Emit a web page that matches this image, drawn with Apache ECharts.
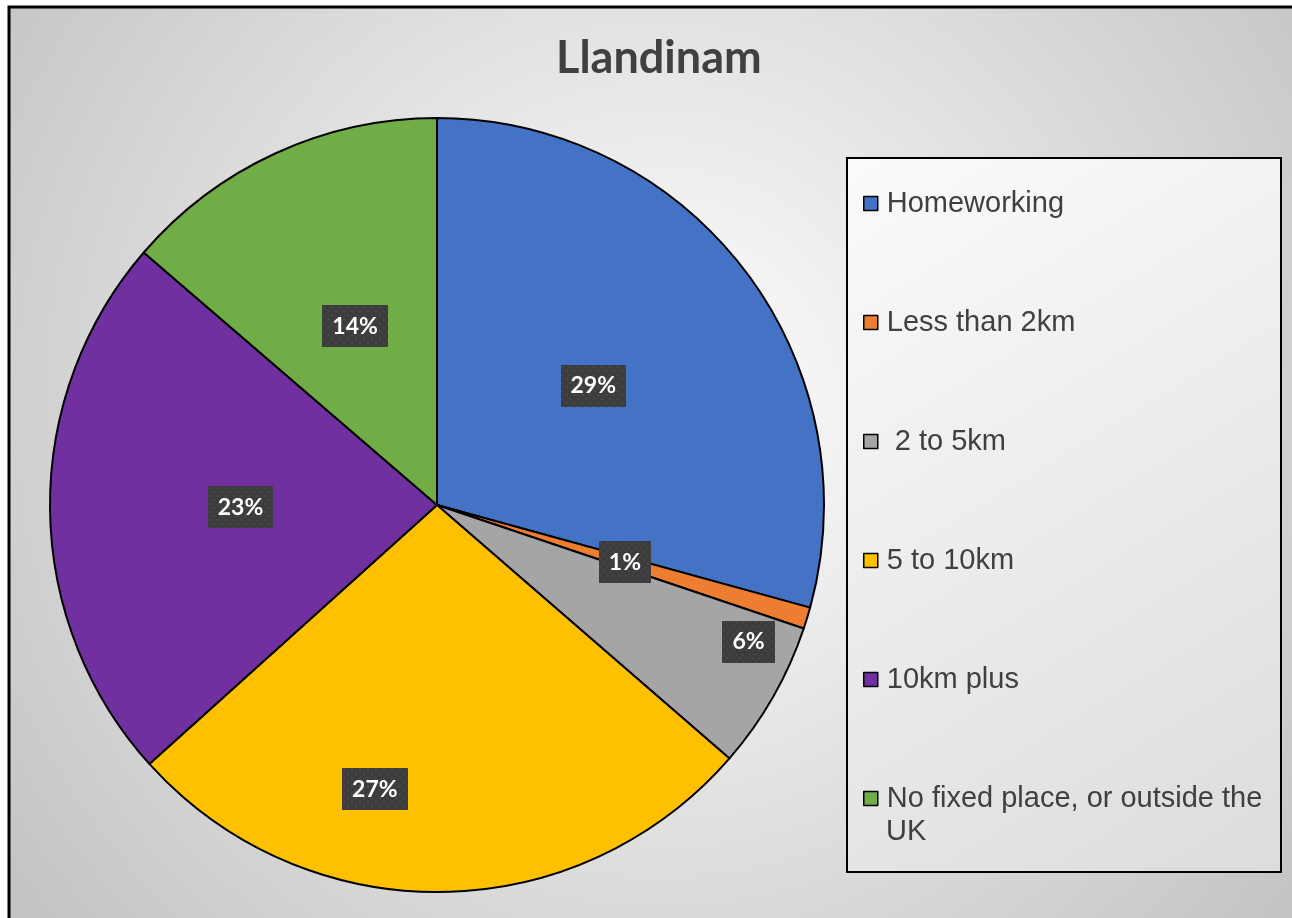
<!DOCTYPE html>
<html lang="en">
<head>
<meta charset="UTF-8">
<title>Llandinam</title>
<script src="https://cdn.jsdelivr.net/npm/echarts@6/dist/echarts.min.js"></script>
<style>
  html, body { margin: 0; padding: 0; background: #fff; }
  #main { width: 1292px; height: 918px; }
</style>
</head>
<body>
<div id="main"></div>
<script type="text/javascript">
// data
var categories = ['Homeworking', 'Less than 2km', ' 2 to 5km', '5 to 10km', '10km plus', 'No fixed place, or outside the UK'];
var shares = [29.3, 0.9, 6.2, 27.0, 23.0, 13.7];
var colors = ['#4472C4', '#ED7D31', '#A5A5A5', '#FFC000', '#7030A0', '#70AD47'];

var chart = echarts.init(document.getElementById('main'));

// label nudges, Excel "best fit" moved these two
var nudge = { 2: [141, 39], 3: [-64, 88] };

// dotted dark fill for the data labels
var dots = document.createElement('canvas');
dots.width = 66; dots.height = 42;
var g = dots.getContext('2d');
g.fillStyle = '#3c3c3c';
g.fillRect(0, 0, 66, 42);
g.fillStyle = '#4a4a4a';
for (var r = 0; r * 4 < 42; r++) {
    for (var c = (r % 2) * 4; c < 66; c += 8) {
        g.fillRect(c + 1, r * 4 + 1, 2, 2);
    }
}

var lastName = categories[categories.length - 1];

chart.setOption({
    animation: false,
    graphic: [
        {
            type: 'rect', z: -10,
            shape: { x: 9, y: 7, width: 1300, height: 1000 },
            style: {
                fill: new echarts.graphic.RadialGradient(0.5, 0.4, 0.8, [
                    { offset: 0, color: '#ffffff' },
                    { offset: 1, color: '#c4c4c4' }
                ]),
                stroke: '#000', lineWidth: 3
            }
        },
        {
            type: 'rect', z: -5,
            shape: { x: 847, y: 158, width: 434, height: 714 },
            style: {
                fill: new echarts.graphic.LinearGradient(0, 0, 1, 1, [
                    { offset: 0, color: '#fbfbfb' },
                    { offset: 1, color: '#dcdcdc' }
                ]),
                stroke: '#000', lineWidth: 2
            }
        },
        {
            // second line of the last legend entry
            type: 'text', z: 10,
            left: 886, top: 817,
            style: { text: 'UK', font: '29px Arial', fill: '#404040' }
        }
    ],
    title: {
        text: 'Llandinam',
        left: 556,
        top: 33,
        padding: 0,
        textStyle: { fontFamily: 'Lato', fontWeight: 'bold', fontSize: 45, lineHeight: 50, color: '#404040' }
    },
    legend: {
        orient: 'vertical',
        left: 863,
        top: 187,
        height: 760,
        padding: 0,
        selectedMode: false,
        itemWidth: 14,
        itemHeight: 14,
        itemGap: 86,
        icon: 'rect',
        itemStyle: { borderColor: '#000', borderWidth: 1.5 },
        textStyle: {
            fontFamily: 'Arial', fontSize: 29, color: '#404040',
            lineHeight: 33, padding: [0, 0, 0, 4]
        },
        formatter: function (name) {
            return name === lastName ? 'No fixed place, or outside the' : name;
        },
        data: categories
    },
    series: [{
        type: 'pie',
        center: [437, 505],
        radius: 387,
        startAngle: 90,
        clockwise: true,
        percentPrecision: 0,
        avoidLabelOverlap: false,
        color: colors,
        itemStyle: { borderColor: '#000', borderWidth: 2 },
        emphasis: { disabled: true },
        labelLine: { show: false },
        label: {
            show: true,
            position: 'inside',
            formatter: '{d}%',
            fontFamily: 'Lato', fontWeight: 'bold', fontSize: 23, color: '#fff',
            lineHeight: 28,
            backgroundColor: { image: dots },
            padding: [7, 10],
            shadowColor: 'rgba(0,0,0,0.45)', shadowBlur: 6, shadowOffsetX: 3, shadowOffsetY: 3
        },
        labelLayout: function (p) {
            var n = nudge[p.dataIndex];
            return n ? { dx: n[0], dy: n[1] } : {};
        },
        data: categories.map(function (c, i) { return { name: c, value: shares[i] }; })
    }]
});
</script>
</body>
</html>
